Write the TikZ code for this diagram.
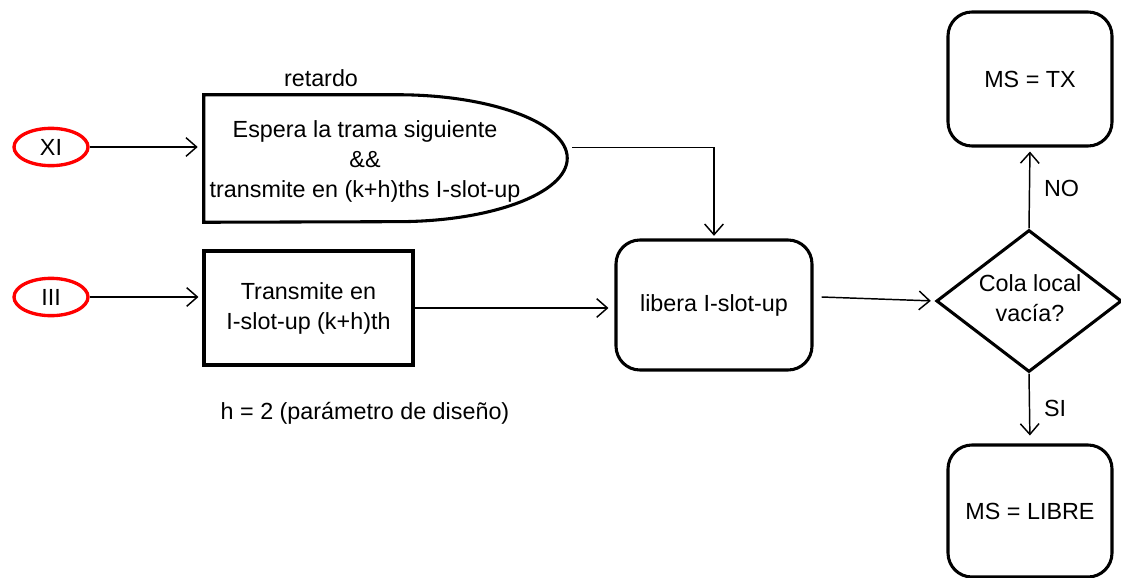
\documentclass[tikz,border=0pt]{standalone}
\usepackage{fontspec}
\setmainfont{Liberation Sans}
\usetikzlibrary{shapes.geometric,arrows.meta,calc}

\begin{document}
\begin{tikzpicture}[x=0.75pt,y=-0.75pt,
      font=\fontsize{17.5}{22.5}\selectfont,
      conector/.style={draw=red,line width=2.5pt,ellipse,minimum width=55.5pt,minimum height=28pt,inner sep=0pt},
      bloque/.style={draw,line width=2.3pt,inner sep=0pt,align=center},
      redondo/.style={bloque,rounded corners=18pt},
      flecha/.style={line width=1.1pt,-{Straight Barb[length=8pt,width=14pt,line width=1.1pt]}}]

      \useasboundingbox (0,0) rectangle (1121,578);

      \node[conector] (xi) at (51,147) {XI};
      \node[conector] (iii) at (51,297) {III};

      \node[inner sep=0pt,minimum width=272.25pt,minimum height=95.25pt] (espera) at (385.5,158.5) {};
      \draw[line width=2.3pt] (espera.north west) -- ([xshift=-127.5pt]espera.north east)
            arc[start angle=90,end angle=-90,x radius=127.5pt,y radius=47.6pt]
            -- (espera.south west) -- cycle;
      \node[align=center] (esperatxt) at (365,161) {Espera la trama siguiente\\\&\&\\transmite en (k+h)ths I-slot-up};
      \node (retardo) at (321,78) {retardo};

      \node[bloque,minimum width=156.75pt,minimum height=85.5pt] (transmite) at (308.5,308) {Transmite en\\I-slot-up (k+h)th};
      \node[redondo,minimum width=147pt,minimum height=97.5pt] (libera) at (714,305) {libera I-slot-up};

      \node[bloque,diamond,minimum width=139pt,minimum height=106.5pt] (cola) at (1029,301) {};
      \node[align=center] (colatxt) at (1030,298) {Cola local\\vacía?};

      \node[redondo,minimum width=123pt,minimum height=100.5pt] (tx) at (1030,79) {MS = TX};
      \node[redondo,minimum width=123pt,minimum height=99pt] (libre) at (1030,511) {MS = LIBRE};

      \node (nota) at (365,413) {h = 2 (parámetro de diseño)};

      \draw[flecha,shorten >=4.5pt] (xi) -- (xi -| espera.west);
      \draw[flecha,shorten >=2pt] ($(espera.east)+(5,-11)$) -| (libera.north);
      \draw[flecha,shorten >=3pt] (iii) -- (iii -| transmite.west);
      \draw[flecha,shorten >=4.5pt] (transmite.east) -- (transmite.east -| libera.west);
      \draw[flecha,shorten >=3pt] ($(libera.east)+(8,-8)$) -- (cola.west);
      \draw[flecha,shorten >=3pt] (cola.north) -- node[right=7pt] {NO} (tx.south);
      \draw[flecha,shorten >=6pt] (cola.south) -- node[right=7pt] {SI} (libre.north);
    \end{tikzpicture}
\end{document}
